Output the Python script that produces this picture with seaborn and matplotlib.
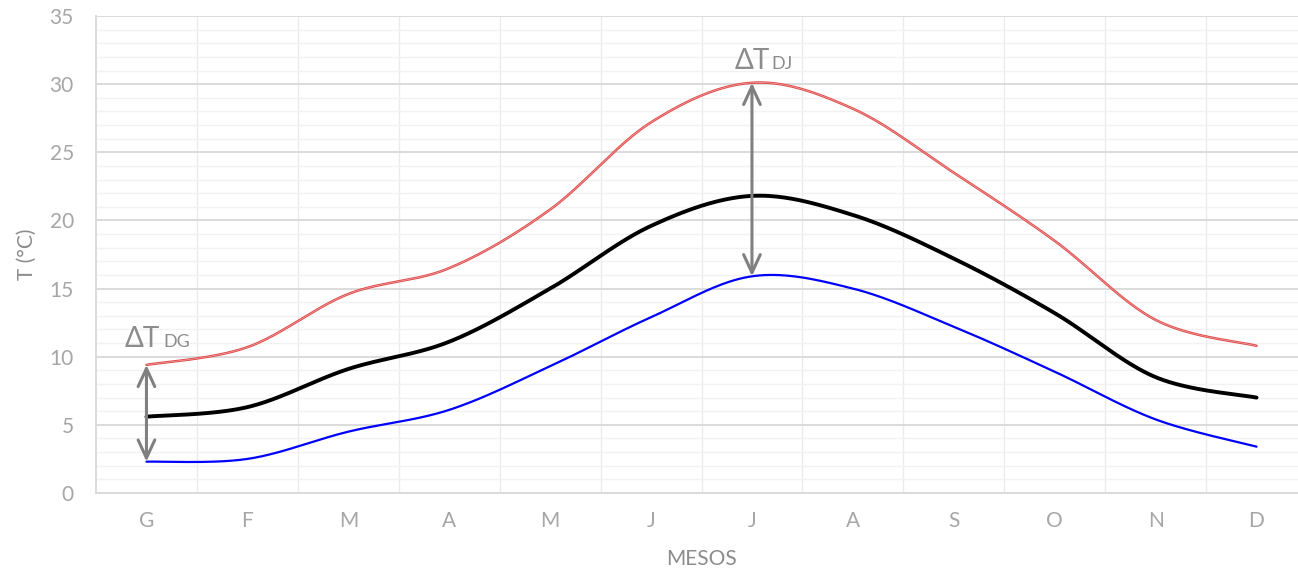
import numpy as np
import pandas as pd
import matplotlib
matplotlib.use("Agg")
import matplotlib.pyplot as plt
import seaborn as sns

# monthly temperatures (°C)
months = ["G", "F", "M", "A", "M", "J", "J", "A", "S", "O", "N", "D"]
t_max = [9.4, 10.7, 14.6, 16.5, 20.8, 27.2, 30.1, 28.2, 23.5, 18.5, 12.7, 10.8]
t_mean = [5.6, 6.3, 9.1, 11.1, 15.0, 19.6, 21.8, 20.4, 17.2, 13.2, 8.5, 7.0]
t_min = [2.3, 2.5, 4.5, 6.1, 9.3, 12.9, 15.9, 15.0, 12.2, 8.9, 5.4, 3.4]


def smooth(y, n=40):
    # Catmull-Rom curve through the points, like Excel's "smoothed line"
    y = np.asarray(y, dtype=float)
    x = np.arange(len(y), dtype=float)
    px = np.concatenate([[x[0]], x, [x[-1]]])
    py = np.concatenate([[y[0]], y, [y[-1]]])
    xs, ys = [], []
    for i in range(1, len(px) - 2):
        t = np.linspace(0, 1, n, endpoint=False)
        for p, out in ((px, xs), (py, ys)):
            p0, p1, p2, p3 = p[i - 1], p[i], p[i + 1], p[i + 2]
            out.extend(0.5 * (2 * p1 + (-p0 + p2) * t
                              + (2 * p0 - 5 * p1 + 4 * p2 - p3) * t ** 2
                              + (-p0 + 3 * p1 - 3 * p2 + p3) * t ** 3))
    xs.append(x[-1])
    ys.append(y[-1])
    return np.array(xs), np.array(ys)


sns.set_style("white")
plt.rcParams["font.family"] = ["Lato", "DejaVu Sans"]

fig = plt.figure(figsize=(12.98, 5.70), dpi=100)
ax = fig.add_axes([96 / 1298, 77 / 570, 1211 / 1298, 477 / 570])

grey_txt = "#8c8c8c"

for vals, col, lw in ((t_min, "#0000ff", 1.6), (t_mean, "black", 2.8), (t_max, "#e04848", 1.8)):
    xs, ys = smooth(vals)
    sns.lineplot(x=xs, y=ys, color=col, lw=lw, estimator=None, sort=False, ax=ax, zorder=3)
# light core on the red line
xs, ys = smooth(t_max)
ax.plot(xs, ys, color="white", lw=0.5, alpha=0.5, zorder=4)

# double arrows for the daily ranges
for i in (0, 6):
    ax.annotate("", xy=(i, t_min[i]), xytext=(i, t_max[i]),
                arrowprops=dict(arrowstyle="<->,head_length=1.3,head_width=0.6",
                                color="#808080", lw=2.2, shrinkA=0, shrinkB=0),
                zorder=5)

ax.text(-0.22, 10.7, "ΔT", fontsize=20, color=grey_txt, va="baseline", ha="left")
ax.text(0.17, 10.7, "DG", fontsize=13, color=grey_txt, va="baseline", ha="left")
ax.text(5.83, 31.1, "ΔT", fontsize=20, color=grey_txt, va="baseline", ha="left")
ax.text(6.19, 31.1, "DJ", fontsize=13, color=grey_txt, va="baseline", ha="left")

ax.set_xlim(-0.5, 11.5)
ax.set_ylim(0, 35)
ax.set_xticks(range(len(months)))
ax.set_xticklabels(months)
ax.set_xticks(np.arange(0.5, 11.5, 1), minor=True)
ax.set_yticks(range(0, 36, 5))
ax.set_yticks(range(0, 36, 1), minor=True)

ax.grid(which="major", axis="y", color="#d9d9d9", lw=1.3, zorder=0)
ax.grid(which="minor", axis="y", color="#f2f2f2", lw=1.0, zorder=0)
ax.grid(which="minor", axis="x", color="#ebebeb", lw=1.0, zorder=0)
ax.grid(which="major", axis="x", visible=False)
ax.set_axisbelow(True)

ax.tick_params(which="both", length=0)
ax.tick_params(axis="y", pad=16, labelsize=15, labelcolor="#a6a6a6")
ax.tick_params(axis="x", pad=13, labelsize=15, labelcolor="#a6a6a6")

for s in ("top", "right"):
    ax.spines[s].set_visible(False)
for s in ("left", "bottom"):
    ax.spines[s].set_color("#d9d9d9")
    ax.spines[s].set_linewidth(1.3)

ax.set_xlabel("MESOS", fontsize=15, color=grey_txt, labelpad=13)
ax.set_ylabel("T (°C)", fontsize=15, color=grey_txt, labelpad=9)

fig.savefig("out.png", dpi=100)
